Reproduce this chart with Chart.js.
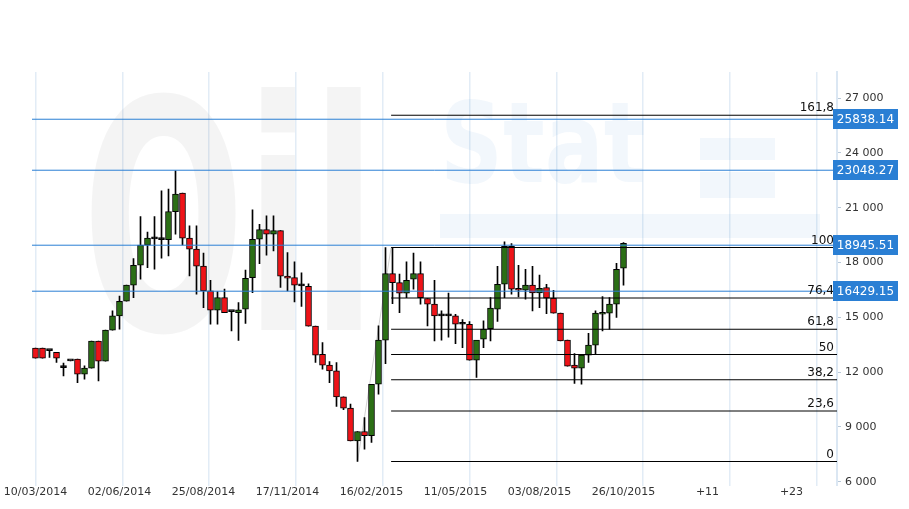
<!DOCTYPE html>
<html>
<head>
<meta charset="utf-8">
<script src="https://cdn.jsdelivr.net/npm/chart.js@4.4.1/dist/chart.umd.min.js"></script>
<style>
  html, body { margin: 0; padding: 0; background: #fff; }
  #wrap { width: 909px; height: 509px; }
</style>
</head>
<body>
<div id="wrap"><canvas id="chart" width="909" height="509"></canvas></div>
<script>
// ---------------------------------------------------------------------------
// Data (weekly candles, index 0 = 10/03/2014)
// ---------------------------------------------------------------------------

const opens  = [13310,13310,13180,13090,12250,12620,12710,11890,12220,13700,
                12600,14300,15080,15880,16760,17850,18950,19290,19250,19250,
                20780,21800,19330,18730,17800,16450,15390,16080,15310,15260,
                15450,17170,19270,19800,19550,19740,17250,17170,16720,16700,
                14520,12980,12380,12070,10650,10030,8240,8750,8520,11340,
                13750,17390,16900,16320,17090,17390,16030,15720,15080,15080,
                15080,14620,14620,12650,13800,14380,15450,16810,18890,16590,
                16480,16760,16340,16630,16050,15230,13750,12380,12220,12930,
                13480,15170,15230,15720,17690];
const highs  = [13310,13310,13180,13090,12490,12620,12710,12340,13700,13700,
                14300,15350,16160,16760,18210,20510,19670,20510,21920,22010,
                23010,21800,20000,20000,18510,17030,16410,16540,15310,15810,
                17580,20880,20090,20550,20550,19740,18540,18030,17430,16830,
                14520,13620,12580,12530,10650,10250,8750,9520,11340,14530,
                18820,18780,17360,18030,18510,18030,16030,17030,15350,16330,
                15170,14880,14770,12650,14810,16080,17790,19130,19030,17850,
                17630,17790,17310,16810,16480,15230,13750,13020,12930,14120,
                15350,16130,16080,17960,19090];
const lows   = [12770,12770,12800,12530,11800,12620,11430,11620,12220,11520,
                12600,14300,14350,15880,16080,17090,17720,17630,18230,18360,
                19550,18960,17270,16270,15530,14620,14620,15260,14260,13740,
                14660,16350,17940,18400,18630,16630,16450,15840,15590,14520,
                12530,12160,11430,10120,9940,8240,7110,7790,8150,10800,
                12470,15750,15260,16080,16540,15720,14530,13710,13750,13910,
                13560,13340,12650,11710,13340,13710,14770,16080,16270,16110,
                15990,15350,15530,15200,15230,13710,12330,11380,11340,12530,
                12980,14260,14350,14990,16760];
const closes = [12770,12770,13180,12770,12250,12620,11890,12220,13700,12600,
                14300,15080,15880,16760,17850,18950,19330,19290,19250,20780,
                21740,19330,18730,17800,16450,15390,16080,15260,15310,15410,
                17140,19270,19800,19550,19740,17250,17140,16760,16720,14520,
                12930,12380,12070,10650,10030,8240,8750,8520,11340,13750,
                17390,16900,16320,17030,17390,16080,15720,15080,15080,15080,
                14620,14620,12650,13750,14350,15500,16810,18890,16540,16480,
                16760,16340,16590,16050,15230,13710,12330,12220,12930,13480,
                15230,15230,15720,17630,19050];

const xTickIndex  = [0, 12, 24, 36, 48, 60, 72, 84, 96, 108];
const xTickLabels = ['10/03/2014', '02/06/2014', '25/08/2014', '17/11/2014', '16/02/2015',
                     '11/05/2015', '03/08/2015', '26/10/2015', '+11', '+23'];
const yTicks      = [6000, 9000, 12000, 15000, 18000, 21000, 24000, 27000];

const levelValues = [25838.14, 23048.27, 18945.51, 16429.15];

const fibRatios   = [0, 23.6, 38.2, 50, 61.8, 76.4, 100, 161.8];
const fibLow      = 7110;
const fibHigh     = 18820;
const fibLowIdx   = 46;
const fibHighIdx  = 50.8;

// ---------------------------------------------------------------------------
// Layout helpers
// ---------------------------------------------------------------------------

const X_MIN = -35.5 / 7;
const X_MAX = (837 - 35.5) / 7;
const Y_MIN = 5781;
const Y_MAX = 28423;

const UP   = '#2b6f15';
const DOWN = '#ee1318';
const BLUE = '#2a7fd4';
const FONT = 'DejaVu Sans, Verdana, sans-serif';

const fibValue = r => fibLow + (fibHigh - fibLow) * r / 100;
const fmtThousands = v => String(v).replace(/\B(?=(\d{3})+$)/g, ' ');

const bodyColors = opens.map((o, i) =>
  closes[i] > o ? UP : closes[i] < o ? DOWN : '#000');

// ---------------------------------------------------------------------------
// Plugins
// ---------------------------------------------------------------------------

const watermarkPlugin = {
  id: 'watermark',
  beforeDatasetsDraw(chart) {
    const { ctx } = chart;
    ctx.save();
    ctx.fillStyle = 'rgba(0,0,0,0.045)';
    ctx.font = 'bold 320px ' + FONT;
    ctx.translate(82, 330);
    ctx.scale(0.6, 1);
    ctx.fillText('Oil', 0, 0);
    ctx.restore();

    ctx.save();
    ctx.fillStyle = 'rgba(40,120,210,0.06)';
    ctx.font = 'bold 112px ' + FONT;
    ctx.translate(440, 182);
    ctx.scale(0.78, 1);
    ctx.fillText('Stat', 0, 0);
    ctx.restore();

    ctx.save();
    ctx.fillStyle = 'rgba(40,120,210,0.06)';
    ctx.fillRect(700, 138, 75, 22);
    ctx.fillRect(700, 172, 75, 26);
    ctx.fillRect(440, 214, 380, 24);
    ctx.restore();
  },
};

const levelLabelPlugin = {
  id: 'levelLabels',
  afterDatasetsDraw(chart) {
    const { ctx, chartArea } = chart;
    const y = chart.scales.y;
    ctx.save();

    // fibonacci ratio labels
    ctx.font = '12px ' + FONT;
    ctx.fillStyle = '#111';
    ctx.textAlign = 'right';
    ctx.textBaseline = 'alphabetic';
    fibRatios.forEach(r => {
      const py = y.getPixelForValue(fibValue(r));
      ctx.fillText(String(r).replace('.', ','), chartArea.right - 3, py - 4);
    });

    // blue price boxes
    levelValues.forEach(v => {
      const py = Math.round(y.getPixelForValue(v));
      ctx.fillStyle = BLUE;
      ctx.fillRect(chartArea.right - 4, py - 10, 65, 20);
      ctx.fillStyle = '#fff';
      ctx.textAlign = 'center';
      ctx.textBaseline = 'middle';
      ctx.fillText(v.toFixed(2), chartArea.right - 4 + 32.5, py + 1);
    });
    ctx.restore();
  },
};

// ---------------------------------------------------------------------------
// Datasets
// ---------------------------------------------------------------------------

const bodyData = opens.map((o, i) => ({ x: i, y: [o, closes[i]] }));
const wickData = opens.map((o, i) => ({ x: i, y: [lows[i], highs[i]] }));

const hLine = (v, x0, color) => ({
  type: 'line',
  data: [{ x: x0, y: v }, { x: X_MAX, y: v }],
  borderColor: color,
  borderWidth: 1,
  pointRadius: 0,
  fill: false,
  order: 0,
  xAxisID: 'x',
});

const datasets = [
  ...levelValues.map(v => hLine(v, -0.5, BLUE)),
  ...fibRatios.map(r => hLine(fibValue(r), fibHighIdx, '#000')),
  {
    type: 'line',
    data: [{ x: fibLowIdx, y: fibLow }, { x: fibHighIdx, y: fibHigh }],
    borderColor: '#d2d2d2',
    borderWidth: 1,
    pointRadius: 0,
    order: 3,
    xAxisID: 'x',
  },
  {
    type: 'bar',
    data: bodyData,
    backgroundColor: bodyColors,
    borderColor: '#000',
    borderWidth: 1,
    borderSkipped: false,
    barThickness: 6,
    minBarLength: 2,
    grouped: false,
    order: 1,
    xAxisID: 'x',
  },
  {
    type: 'bar',
    data: wickData,
    backgroundColor: '#000',
    borderWidth: 0,
    barThickness: 1,
    grouped: false,
    order: 2,
    xAxisID: 'x',
  },
];

// ---------------------------------------------------------------------------
// Chart
// ---------------------------------------------------------------------------

new Chart(document.getElementById('chart'), {
  type: 'bar',
  data: { datasets },
  plugins: [watermarkPlugin, levelLabelPlugin],
  options: {
    responsive: false,
    animation: false,
    devicePixelRatio: 1,
    layout: { padding: { top: 72, bottom: 10, left: 0, right: 0 } },
    plugins: { legend: { display: false }, tooltip: { enabled: false } },
    scales: {
      x: {
        type: 'linear',
        position: 'bottom',
        offset: false,
        min: X_MIN,
        max: X_MAX,
        afterBuildTicks: s => { s.ticks = xTickIndex.map(v => ({ value: v })); },
        ticks: {
          autoSkip: false,
          maxRotation: 0,
          padding: 0,
          color: '#333',
          font: { family: FONT, size: 11 },
          callback: v => xTickLabels[xTickIndex.indexOf(v)],
        },
        grid: { display: false, drawTicks: false },
        border: { display: false },
      },
      xg: {
        type: 'linear',
        position: 'bottom',
        offset: false,
        min: X_MIN,
        max: X_MAX,
        afterBuildTicks: s => {
          s.ticks = Array.from({ length: 10 }, (_, k) => ({ value: k * 12.4 }));
        },
        afterFit: s => { s.height = 0; },
        ticks: { display: false },
        grid: { color: '#e2ecf6', lineWidth: 1.5, drawTicks: false, offset: false },
        border: { display: false },
      },
      y: {
        type: 'linear',
        position: 'right',
        min: Y_MIN,
        max: Y_MAX,
        afterBuildTicks: s => { s.ticks = yTicks.map(v => ({ value: v })); },
        afterFit: s => { s.width = 72; },
        ticks: {
          padding: 4,
          color: '#333',
          font: { family: FONT, size: 11 },
          callback: v => fmtThousands(v),
        },
        grid: { drawOnChartArea: false, tickLength: 4, tickColor: '#b9c9d9' },
        border: { color: '#dbe7f3', width: 2 },
      },
    },
  },
});
</script>
</body>
</html>
